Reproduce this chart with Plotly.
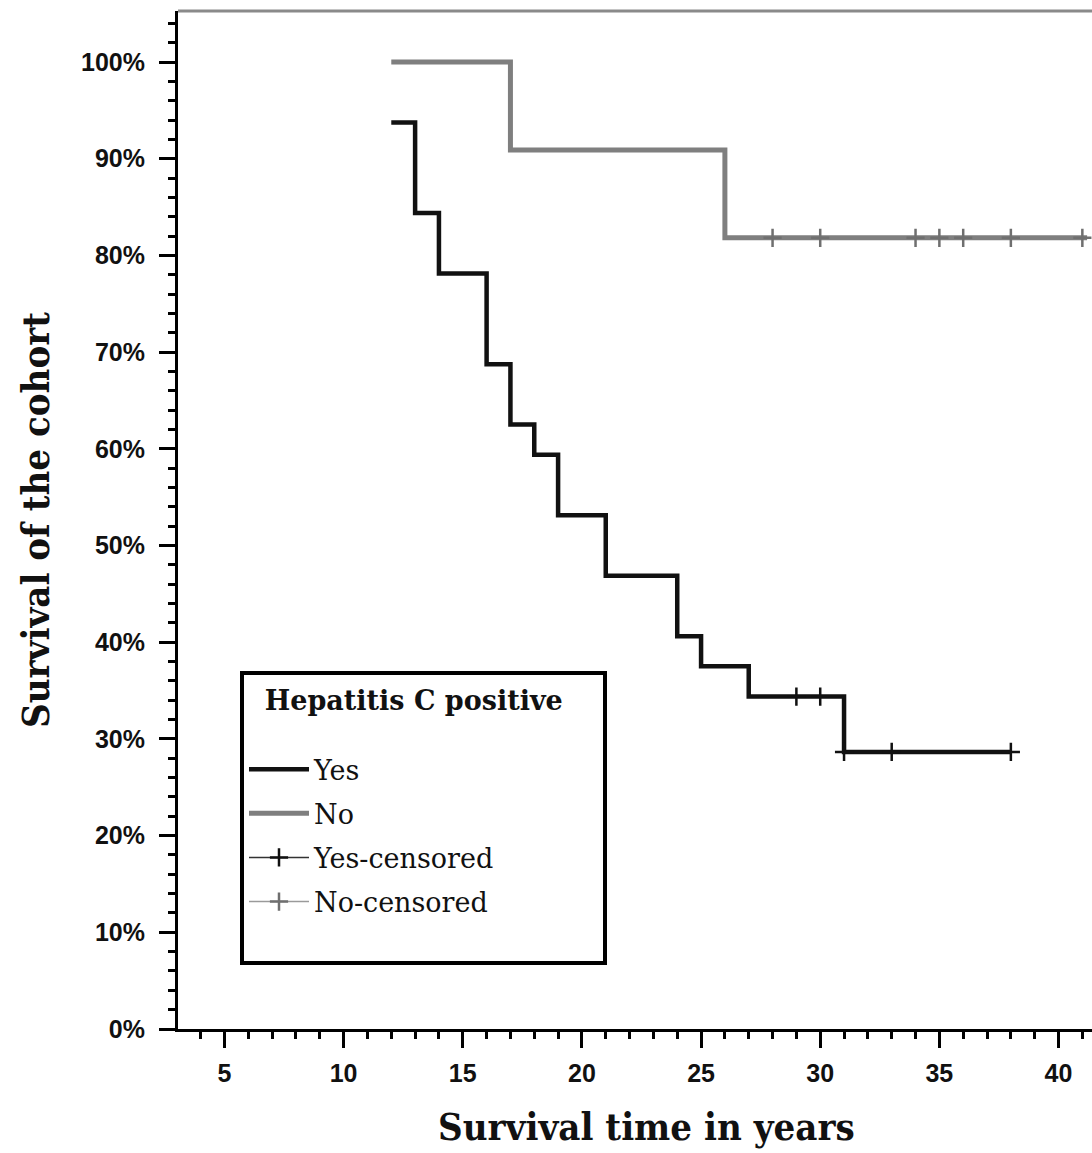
import plotly.graph_objects as go

# ---- data (Kaplan-Meier survival, %) ----
yes_time = [12, 13, 14, 16, 17, 18, 19, 21, 24, 25, 27, 31, 38]
yes_surv = [93.75, 84.375, 78.125, 68.75, 62.5, 59.375, 53.125, 46.875, 40.625, 37.5, 34.375, 28.65, 28.65]
no_time = [12, 17, 26, 41.2]
no_surv = [100, 90.91, 81.82, 81.82]
yes_cens_time = [29, 30, 31, 33, 38]
yes_cens_surv = [34.375, 34.375, 28.65, 28.65, 28.65]
no_cens_time = [28, 30, 34, 35, 36, 38, 41]
no_cens_surv = [81.82] * 7

x_ticks = [5, 10, 15, 20, 25, 30, 35, 40]
y_ticks = [0, 10, 20, 30, 40, 50, 60, 70, 80, 90, 100]


def with_gaps(xs, ys):
    gx, gy = [], []
    for a, b in zip(xs, ys):
        gx += [a, None]
        gy += [b, None]
    return gx, gy


BLACK = "#111111"
GREY = "#7f7f7f"
NB = "\u00a0"

fig = go.Figure()
fig.add_trace(go.Scatter(x=yes_time, y=yes_surv, mode="lines", line_shape="hv",
                         line=dict(color=BLACK, width=4.5), name="Yes", legendgroup="a"))
fig.add_trace(go.Scatter(x=no_time, y=no_surv, mode="lines", line_shape="hv",
                         line=dict(color=GREY, width=5), name="No", legendgroup="b"))
ycx, ycy = with_gaps(yes_cens_time, yes_cens_surv)
fig.add_trace(go.Scatter(x=ycx, y=ycy, mode="lines+markers", connectgaps=False,
                         line=dict(color="#333333", width=1.5),
                         marker=dict(symbol="cross-thin", size=13,
                                     line=dict(color=BLACK, width=2.5)),
                         name="Yes-censored", legendgroup="c"))
ncx, ncy = with_gaps(no_cens_time, no_cens_surv)
fig.add_trace(go.Scatter(x=ncx, y=ncy, mode="lines+markers", connectgaps=False,
                         line=dict(color="#9a9a9a", width=1.5),
                         marker=dict(symbol="cross-thin", size=13,
                                     line=dict(color="#6f6f6f", width=2.5)),
                         name="No-censored<br>" + NB, legendgroup="d"))

L, R, T, B = 178, 0, 11, 124
W, H = 1092, 1153
px_per_year = 23.83
px_per_pct = 9.67
x0 = 3.05
x1 = x0 + (W - L - R) / px_per_year
y1 = (H - T - B) / px_per_pct
plot_h = H - T - B
plot_w = W - L - R

tickfont = dict(family="Liberation Sans, Arial, sans-serif", size=25, color="#111111", weight="bold")
titlefont = dict(family="DejaVu Serif Condensed, DejaVu Serif, serif", size=38, color="#111111", weight="bold")

fig.update_layout(
    width=W, height=H,
    margin=dict(l=L, r=R, t=T, b=B, pad=0),
    paper_bgcolor="white", plot_bgcolor="white",
    showlegend=True,
    legend=dict(
        x=(240 - L) / plot_w, y=(H - B - 671) / plot_h,
        xanchor="left", yanchor="top",
        bordercolor="black", borderwidth=4, bgcolor="white",
        font=dict(family="DejaVu Serif, serif", size=27, color="#111111"),
        title=dict(text=NB * 2 + "Hepatitis C positive" + NB * 4 + "<br>" + NB,
                   font=dict(family="DejaVu Serif, serif", size=27, color="#111111", weight="bold")),
        itemwidth=60,
        traceorder="grouped",
        tracegroupgap=6,
        valign="top",
    ),
    xaxis=dict(
        range=[x0, x1], tickvals=x_ticks, ticktext=[str(v) for v in x_ticks],
        showgrid=False, zeroline=False,
        showline=True, linecolor="black", linewidth=3,
        ticks="outside", ticklen=16, tickwidth=3, tickcolor="black",
        minor=dict(dtick=1, tick0=0, ticks="outside", ticklen=7, tickwidth=3, tickcolor="black", showgrid=False),
        tickfont=tickfont, ticklabelstandoff=4,
    ),
    yaxis=dict(
        range=[0, y1], tickvals=y_ticks, ticktext=[f"{v}%" for v in y_ticks],
        showgrid=False, zeroline=False,
        showline=True, linecolor="black", linewidth=3,
        ticks="outside", ticklen=16, tickwidth=3, tickcolor="black",
        minor=dict(dtick=2, tick0=0, ticks="outside", ticklen=7, tickwidth=3, tickcolor="black", showgrid=False),
        tickfont=tickfont, ticklabelstandoff=9,
        title=dict(text="Survival of the cohort", font=titlefont, standoff=20),
    ),
    annotations=[dict(text="Survival time in years", font=titlefont, showarrow=False,
                      xref="paper", yref="paper",
                      x=(646 - L) / plot_w, y=(H - B - 1126) / plot_h,
                      xanchor="center", yanchor="middle")],
    shapes=[dict(type="line", xref="paper", yref="paper", x0=0, x1=1, y0=1, y1=1,
                 line=dict(color="#8a8a8a", width=3))],
)

fig.write_html("out.html", config={"displayModeBar": False},
               post_script="document.body.style.margin='0px';")
